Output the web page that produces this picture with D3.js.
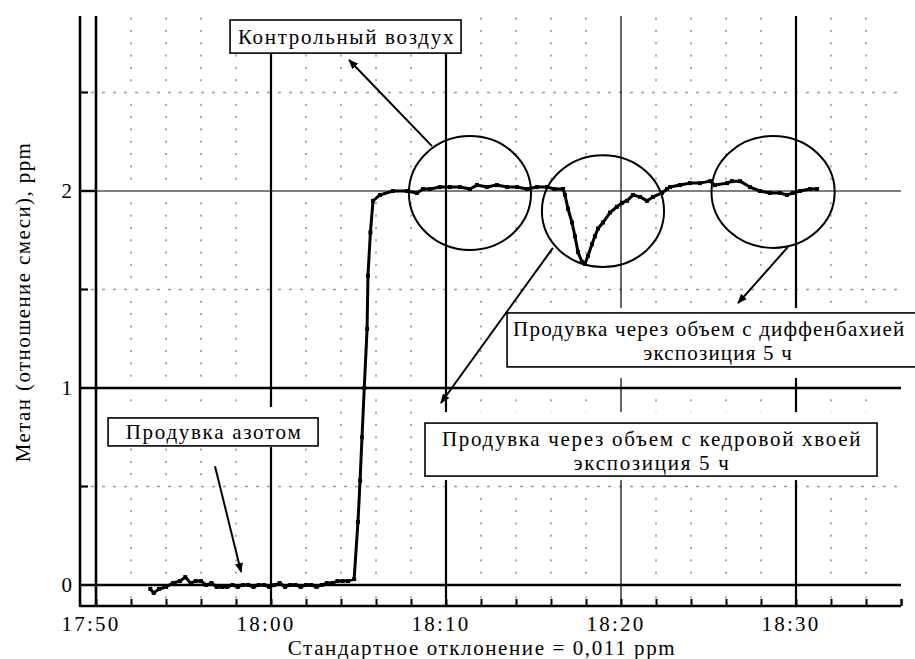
<!DOCTYPE html>
<html>
<head>
<meta charset="utf-8">
<script src="https://cdn.jsdelivr.net/npm/d3@7"></script>
<style>
  body { margin: 0; background: #fff; }
  svg { display: block; }
</style>
</head>
<body>
<div id="chart"></div>
<script>
// minutes after 17:50 and methane mixing ratio, ppm
var sampleMin = [
  3.1, 3.3, 3.6, 4.0, 4.4, 4.8, 5.1, 5.4, 5.7, 6.0, 6.3, 6.6, 6.9, 7.2, 7.5, 7.8,
  8.1, 8.4, 8.7, 9.0, 9.3, 9.6, 9.9, 10.2, 10.5, 10.8, 11.1, 11.4, 11.7, 12.0,
  12.3, 12.6, 12.9, 13.2, 13.5, 13.8, 14.1, 14.4, 14.75,
  14.97, 15.09, 15.2, 15.33, 15.49, 15.54, 15.68, 15.83,
  16.23, 16.97, 17.77, 18.34, 18.69, 19.09, 19.66, 20.23, 20.8, 21.37, 21.77,
  22.34, 22.91, 23.49, 24.06, 24.63, 25.2, 25.77, 26.2, 26.69,
  26.8, 26.97, 27.2, 27.37, 27.54, 27.77, 27.94, 28.11, 28.34, 28.51, 28.69,
  28.97, 29.37, 29.77, 30.06, 30.34, 30.69, 31.09, 31.49, 31.83, 32.34, 32.63,
  32.8, 33.37, 33.94, 34.51, 35.09, 35.37, 36.06, 36.34, 36.8, 37.37, 37.94,
  38.51, 39.09, 39.49, 39.83, 40.23, 40.8, 41.2
];
var sampleCH4 = [
  -0.02, -0.04, -0.02, -0.01, 0.01, 0.02, 0.04, 0.01, 0.02, 0.02, 0.00, 0.01, -0.01, -0.01, -0.01, 0.00,
  -0.01, 0.00, 0.00, -0.01, 0.00, 0.00, -0.01, 0.00, 0.01, -0.01, 0.00, 0.00, -0.01, 0.00,
  0.00, -0.01, 0.00, 0.01, 0.01, 0.02, 0.02, 0.02, 0.03,
  0.32, 0.53, 0.75, 1.00, 1.30, 1.57, 1.79, 1.95,
  1.98, 2.00, 2.00, 1.99, 2.01, 2.01, 2.02, 2.02, 2.02, 2.01, 2.03,
  2.02, 2.03, 2.02, 2.02, 2.01, 2.02, 2.02, 2.01, 2.01,
  1.98, 1.91, 1.84, 1.77, 1.69, 1.64, 1.63, 1.67, 1.73, 1.77, 1.81,
  1.84, 1.89, 1.92, 1.94, 1.95, 1.98, 1.97, 1.95, 1.97, 1.99, 2.01,
  2.02, 2.03, 2.04, 2.04, 2.05, 2.03, 2.04, 2.05, 2.05, 2.02, 2.00,
  1.99, 1.99, 1.98, 1.99, 2.00, 2.01, 2.01
];

var xTickMin = [0, 10, 20, 30, 40];
var xTickLabels = ["17:50", "18:00", "18:10", "18:20", "18:30"];
var yTickVals = [0, 1, 2];
var yHalfVals = [0.5, 1.5, 2.5];

var yLabel = "Метан (отношение смеси), ppm";
var xLabel = "Стандартное отклонение = 0,011 ppm";

// annotation boxes: [t0, t1, v0(bottom), v1(top)], text lines
var boxNames = ["air", "n2", "dieff", "cedar"];
var boxExtent = [
  [7.66, 20.86, 2.70, 2.868],
  [0.69, 12.69, 0.706, 0.848],
  [23.49, 47.49, 1.107, 1.381],
  [18.8, 44.63, 0.553, 0.822]
];
var boxLines = [
  ["Контрольный воздух"],
  ["Продувка азотом"],
  ["Продувка через объем с диффенбахией", "экспозиция 5 ч"],
  ["Продувка через объем с кедровой хвоей", "экспозиция 5 ч"]
];
// white clearance above / below each box, px
var boxPad = [[60, 0], [11, 1], [5, 11], [11, 4]];
// tracking of the box texts, px
var boxSpacing = [1.7, 1.7, 1.2, 1.7];

// ellipses around parts of the trace: centre t, centre v, half-width (min), half-height (ppm)
var ringCentre = [[21.37, 1.99], [28.97, 1.898], [38.69, 1.995]];
var ringSize = [[3.49, 0.289], [3.49, 0.284], [3.52, 0.284]];

// arrows: from [t, v] to [t, v]
var arrowFrom = [[19.2, 2.228], [6.8, 0.603], [39.54, 1.716], [26.11, 1.711]];
var arrowTo = [[14.46, 2.665], [8.29, 0.066], [36.69, 1.431], [19.71, 0.924]];

const FONT = "'Liberation Serif', 'Times New Roman', 'DejaVu Serif', 'Noto Serif', serif";
const W = 915, H = 659;
const plot = {left: 80, right: 901, top: 16, bottom: 606};

const x = d3.scaleLinear().domain([0, 10]).range([96, 271]);
const y = d3.scaleLinear().domain([0, 2]).range([585, 191]);

const svg = d3.select('#chart').append('svg')
  .attr('width', W).attr('height', H)
  .attr('font-family', FONT);

svg.append('rect').attr('width', W).attr('height', H).attr('fill', '#fff');

const defs = svg.append('defs');
defs.append('marker')
  .attr('id', 'head')
  .attr('viewBox', '0 0 10 8')
  .attr('refX', 9).attr('refY', 4)
  .attr('markerWidth', 10).attr('markerHeight', 8)
  .attr('markerUnits', 'userSpaceOnUse')
  .attr('orient', 'auto')
  .append('path').attr('d', 'M0,0 L10,4 L0,8 z').attr('fill', '#000');

const tLeft = x.invert(plot.left), tRight = x.invert(plot.right);
const vTop = y.invert(plot.top), vBottom = y.invert(plot.bottom);

// dotted grid
const dotCols = d3.range(2, 46, 2).filter(d => d % 10 != 0);
const dotRows = d3.range(-1, 47).map(k => k * 0.0625).filter(v => v > vBottom + 0.02 && v < vTop && v % 0.5 != 0);
const dots = svg.append('g').attr('fill', '#a8a8a8');
dotCols.forEach(c => {
  dotRows.forEach(r => {
    dots.append('rect')
      .attr('x', x(c) - 1).attr('y', y(r) - 1)
      .attr('width', 2).attr('height', 2);
  });
});

// dashed half-unit lines
svg.append('g').selectAll('line').data(yHalfVals).join('line')
  .attr('x1', plot.left).attr('x2', plot.right)
  .attr('y1', d => y(d)).attr('y2', d => y(d))
  .attr('stroke', '#9a9a9a').attr('stroke-width', 1.5)
  .attr('stroke-dasharray', '3,8');

// major verticals (18:20 is drawn thin in the original)
svg.append('g').selectAll('line').data(xTickMin).join('line')
  .attr('x1', d => x(d)).attr('x2', d => x(d))
  .attr('y1', plot.top).attr('y2', plot.bottom)
  .attr('stroke', '#000')
  .attr('stroke-width', d => d == 30 ? 1.2 : (d == 0 ? 2.6 : 2.2));

// major horizontals
svg.append('g').selectAll('line').data(yTickVals).join('line')
  .attr('x1', plot.left).attr('x2', plot.right)
  .attr('y1', d => y(d)).attr('y2', d => y(d))
  .attr('stroke', '#000')
  .attr('stroke-width', d => d == 2 ? 1.2 : 2.4);
svg.append('line')
  .attr('x1', plot.left).attr('x2', x(0))
  .attr('y1', y(2)).attr('y2', y(2))
  .attr('stroke', '#000').attr('stroke-width', 2.4);

// left axis
svg.append('line')
  .attr('x1', plot.left).attr('x2', plot.left)
  .attr('y1', plot.top).attr('y2', plot.bottom + 1)
  .attr('stroke', '#000').attr('stroke-width', 2.6);

// half ticks on left axis
svg.append('g').selectAll('line').data(yHalfVals).join('line')
  .attr('x1', plot.left).attr('x2', plot.left + 8)
  .attr('y1', d => y(d)).attr('y2', d => y(d))
  .attr('stroke', '#000').attr('stroke-width', 2.2);

// bottom axis with 2-minute ticks
const xAxis = d3.axisTop(x)
  .tickValues(d3.range(0, 48, 2).concat([tRight]))
  .tickSize(7).tickFormat('');
const gx = svg.append('g')
  .attr('transform', `translate(0,${plot.bottom})`)
  .call(xAxis);
gx.select('.domain').attr('d', `M${plot.left},0H${plot.right}`)
  .attr('stroke-width', 2.6);
gx.selectAll('.tick line').attr('stroke-width', 2);

// tick labels
svg.append('g').selectAll('text').data(xTickMin).join('text')
  .attr('x', (d, i) => x(d) - 5)
  .attr('y', 631)
  .attr('text-anchor', 'middle')
  .attr('font-size', 21).attr('letter-spacing', 2.2)
  .text((d, i) => xTickLabels[i]);

svg.append('g').selectAll('text').data(yTickVals).join('text')
  .attr('x', 72).attr('y', d => y(d) + 7)
  .attr('text-anchor', 'end')
  .attr('font-size', 21)
  .text(d => d);

svg.append('text')
  .attr('x', 482).attr('y', 655)
  .attr('text-anchor', 'middle')
  .attr('font-size', 21).attr('letter-spacing', 1.6)
  .text(xLabel);

svg.append('text')
  .attr('transform', 'translate(30,302) rotate(-90)')
  .attr('text-anchor', 'middle')
  .attr('font-size', 21).attr('letter-spacing', 1.4)
  .text(yLabel);

// white clearance behind annotation boxes
boxExtent.forEach((b, i) => {
  const top = Math.max(0, y(b[3]) - boxPad[i][0]);
  svg.append('rect')
    .attr('x', x(b[0])).attr('y', top)
    .attr('width', x(b[1]) - x(b[0]))
    .attr('height', y(b[2]) + boxPad[i][1] - top)
    .attr('fill', '#fff');
});

// trace
const pts = sampleMin.map((t, i) => [t, sampleCH4[i]]);
const line = d3.line().x(d => x(d[0])).y(d => y(d[1]));
svg.append('path')
  .datum(pts)
  .attr('d', line)
  .attr('fill', 'none').attr('stroke', '#000')
  .attr('stroke-width', 3).attr('stroke-linejoin', 'round');
svg.append('g').selectAll('rect').data(pts).join('rect')
  .attr('x', d => x(d[0]) - 2).attr('y', d => y(d[1]) - 2)
  .attr('width', 4).attr('height', 4).attr('fill', '#000');

// rings
svg.append('g').selectAll('ellipse').data(ringCentre).join('ellipse')
  .attr('cx', d => x(d[0])).attr('cy', d => y(d[1]))
  .attr('rx', (d, i) => x(ringSize[i][0]) - x(0))
  .attr('ry', (d, i) => y(0) - y(ringSize[i][1]))
  .attr('fill', 'none').attr('stroke', '#000').attr('stroke-width', 2);

// arrows
svg.append('g').selectAll('line').data(arrowFrom).join('line')
  .attr('x1', d => x(d[0])).attr('y1', d => y(d[1]))
  .attr('x2', (d, i) => x(arrowTo[i][0])).attr('y2', (d, i) => y(arrowTo[i][1]))
  .attr('stroke', '#000').attr('stroke-width', 2)
  .attr('marker-end', 'url(#head)');

// annotation boxes
boxExtent.forEach((b, i) => {
  const g = svg.append('g').attr('class', 'box-' + boxNames[i]);
  const bx = x(b[0]), by = y(b[3]);
  const bw = x(b[1]) - bx, bh = y(b[2]) - by;
  g.append('rect')
    .attr('x', bx).attr('y', by).attr('width', bw).attr('height', bh)
    .attr('fill', '#fff').attr('stroke', '#000').attr('stroke-width', 1.6);
  const n = boxLines[i].length;
  // the right-hand box runs off the page, so its text is anchored at its left side
  boxLines[i].forEach((s, k) => {
    const t = g.append('text')
      .attr('y', n == 1 ? by + bh / 2 + 7 : by + 23 + k * 24)
      .attr('font-size', 21).attr('letter-spacing', boxSpacing[i])
      .text(s);
    if (bx + bw > W && k == 0) {
      t.attr('x', bx + 6).attr('text-anchor', 'start');
    } else {
      t.attr('x', bx + bw / 2 + 1).attr('text-anchor', 'middle');
    }
  });
});
</script>
</body>
</html>
